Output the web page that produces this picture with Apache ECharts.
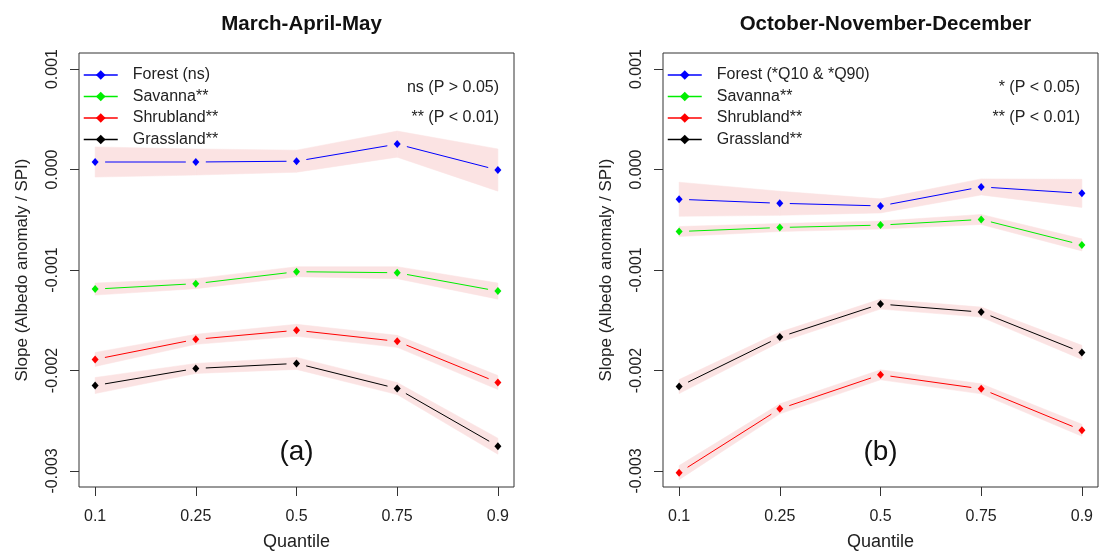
<!DOCTYPE html>
<html>
<head>
<meta charset="utf-8">
<script src="https://cdn.jsdelivr.net/npm/echarts@6/dist/echarts.min.js"></script>
<style>
  html, body { margin: 0; padding: 0; background: #fff; }
  #chart { width: 1101px; height: 556px; }
</style>
</head>
<body>
<div id="chart"></div>
<script>
// x categories and y ticks
const quantiles = ['0.1', '0.25', '0.5', '0.75', '0.9'];
const yTicks = [-0.003, -0.002, -0.001, 0, 0.001];

// (a) March-April-May : slopes and half width of the confidence band
const mamForest = [0.000075, 0.000075, 0.000083, 0.000253, -0.000005];
const mamForestBand = [0.00015, 0.00013, 0.00011, 0.00013, 0.00021];
const mamSavanna = [-0.00119, -0.001136, -0.001017, -0.001027, -0.00121];
const mamSavannaBand = [0.00006, 0.00005, 0.00005, 0.00006, 0.00008];
const mamShrubland = [-0.00189, -0.00169, -0.0016, -0.00171, -0.00212];
const mamShrublandBand = [0.00007, 0.00005, 0.00006, 0.00006, 0.00007];
const mamGrassland = [-0.00215, -0.00198, -0.00193, -0.00218, -0.002754];
const mamGrasslandBand = [0.00008, 0.00005, 0.00006, 0.00006, 0.00008];

// (b) October-November-December
const ondForest = [-0.000296, -0.000336, -0.000362, -0.000173, -0.000237];
const ondForestBand = [0.00017, 0.00012, 0.00007, 0.00008, 0.00014];
const ondSavanna = [-0.000617, -0.000577, -0.000553, -0.000497, -0.00075];
const ondSavannaBand = [0.00005, 0.00004, 0.00004, 0.00005, 0.00006];
const ondShrubland = [-0.003017, -0.002382, -0.002043, -0.002183, -0.002595];
const ondShrublandBand = [0.00007, 0.00005, 0.00005, 0.00005, 0.00006];
const ondGrassland = [-0.00216, -0.001668, -0.001339, -0.001419, -0.00182];
const ondGrasslandBand = [0.00007, 0.00005, 0.00005, 0.00005, 0.00007];

const fontFamily = 'Liberation Sans, Arial, sans-serif';
const bandColor = '#fbe3e3';
const xIdx = quantiles.map((q, i) => i + 1);

const panels = [
  {
    title: 'March-April-May', tag: '(a)', left: 79,
    notes: ['ns (P > 0.05)', '** (P < 0.01)'], noteRight: 499,
    lines: [
      { name: 'Forest (ns)', color: '#0000ff', values: mamForest, band: mamForestBand },
      { name: 'Savanna**', color: '#00ee00', values: mamSavanna, band: mamSavannaBand },
      { name: 'Shrubland**', color: '#ff0000', values: mamShrubland, band: mamShrublandBand },
      { name: 'Grassland**', color: '#000000', values: mamGrassland, band: mamGrasslandBand }
    ]
  },
  {
    title: 'October-November-December', tag: '(b)', left: 663,
    notes: ['* (P < 0.05)', '** (P < 0.01)'], noteRight: 1080,
    lines: [
      { name: 'Forest (*Q10 & *Q90)', color: '#0000ff', values: ondForest, band: ondForestBand },
      { name: 'Savanna**', color: '#00ee00', values: ondSavanna, band: ondSavannaBand },
      { name: 'Shrubland**', color: '#ff0000', values: ondShrubland, band: ondShrublandBand },
      { name: 'Grassland**', color: '#000000', values: ondGrassland, band: ondGrasslandBand }
    ]
  }
];

// one quad of the band between two neighbouring quantiles
function renderBand(params, api) {
  const pts = [
    api.coord([api.value(0), api.value(1)]),
    api.coord([api.value(0), api.value(2)]),
    api.coord([api.value(3), api.value(5)]),
    api.coord([api.value(3), api.value(4)])
  ];
  return { type: 'polygon', shape: { points: pts }, style: { fill: bandColor, stroke: bandColor, lineWidth: 0.5 } };
}

// line segment between two points, stopped short of the markers (like R type="b")
function segmentRenderer(color) {
  return function (params, api) {
    const a = api.coord([api.value(0), api.value(1)]);
    const b = api.coord([api.value(2), api.value(3)]);
    const dx = b[0] - a[0], dy = b[1] - a[1];
    const len = Math.sqrt(dx * dx + dy * dy);
    const gap = 10;
    if (len <= 2 * gap) return null;
    const ux = dx / len, uy = dy / len;
    return {
      type: 'line',
      shape: { x1: a[0] + ux * gap, y1: a[1] + uy * gap, x2: b[0] - ux * gap, y2: b[1] - uy * gap },
      style: { stroke: color, lineWidth: 1 }
    };
  };
}

const gridW = 435, gridTop = 53, gridH = 434;
const grid = [], xAxis = [], yAxis = [], series = [], legend = [], title = [], graphic = [];

panels.forEach(function (p, gi) {
  const cx = p.left + gridW / 2;
  grid.push({
    left: p.left, top: gridTop, width: gridW, height: gridH,
    show: true, borderColor: '#333', borderWidth: 1, backgroundColor: 'transparent'
  });
  xAxis.push({
    type: 'value', gridIndex: gi, min: 0.84, max: 5.16,
    name: 'Quantile', nameLocation: 'middle', nameGap: 46,
    nameTextStyle: { fontFamily: fontFamily, fontSize: 18, color: '#222' },
    axisLine: { show: false, onZero: false },
    axisTick: { show: true, length: 9, customValues: xIdx, lineStyle: { color: '#333' } },
    axisLabel: {
      customValues: xIdx, margin: 22, fontFamily: fontFamily, fontSize: 16, color: '#222',
      formatter: v => quantiles[Math.round(v) - 1]
    },
    splitLine: { show: false }
  });
  yAxis.push({
    type: 'value', gridIndex: gi, min: -0.00316, max: 0.00116,
    name: 'Slope (Albedo anomaly / SPI)', nameLocation: 'middle', nameGap: 48,
    nameTextStyle: { fontFamily: fontFamily, fontSize: 17, color: '#222' },
    axisLine: { show: false, onZero: false },
    axisTick: { show: true, length: 9, customValues: yTicks, lineStyle: { color: '#333' } },
    axisLabel: {
      customValues: yTicks, rotate: 90, margin: 18, fontFamily: fontFamily, fontSize: 16, color: '#222',
      formatter: v => v.toFixed(3)
    },
    splitLine: { show: false }
  });

  p.lines.forEach(function (s) {
    const quads = [];
    for (let i = 0; i < s.values.length - 1; i++) {
      quads.push([
        xIdx[i], s.values[i] - s.band[i], s.values[i] + s.band[i],
        xIdx[i + 1], s.values[i + 1] - s.band[i + 1], s.values[i + 1] + s.band[i + 1]
      ]);
    }
    series.push({
      type: 'custom', xAxisIndex: gi, yAxisIndex: gi, renderItem: renderBand,
      encode: { x: [0, 3], y: [1, 2, 4, 5] }, data: quads, silent: true, z: 1
    });
  });
  p.lines.forEach(function (s) {
    const segs = [];
    for (let i = 0; i < s.values.length - 1; i++) {
      segs.push([xIdx[i], s.values[i], xIdx[i + 1], s.values[i + 1]]);
    }
    series.push({
      type: 'custom', xAxisIndex: gi, yAxisIndex: gi, renderItem: segmentRenderer(s.color),
      encode: { x: [0, 2], y: [1, 3] }, data: segs, silent: true, z: 2
    });
    series.push({
      name: s.name, type: 'line', xAxisIndex: gi, yAxisIndex: gi,
      data: s.values.map((v, i) => [xIdx[i], v]),
      symbol: 'diamond', symbolSize: [7, 8],
      itemStyle: { color: s.color }, lineStyle: { color: s.color, width: 1, opacity: 0 }, z: 3
    });
  });

  legend.push({
    orient: 'vertical', left: p.left - 1, top: 62, itemWidth: 34, itemHeight: 12, itemGap: 5.5,
    data: p.lines.map(s => ({ name: s.name, lineStyle: { color: s.color, width: 1.5, opacity: 1 } })),
    textStyle: { fontFamily: fontFamily, fontSize: 16, color: '#222', padding: [0, 0, 0, 10] }
  });
  title.push({
    text: p.title, left: cx, top: 9, textAlign: 'center',
    textStyle: { fontFamily: fontFamily, fontSize: 20.5, fontWeight: 'bold', color: '#111' }
  });
  graphic.push({
    type: 'text', x: cx, y: 452,
    style: { text: p.tag, font: '28px ' + fontFamily, fill: '#111', align: 'center', verticalAlign: 'middle' }
  });
  p.notes.forEach(function (t, j) {
    graphic.push({
      type: 'text', x: p.noteRight, y: 88 + j * 30,
      style: { text: t, font: '16px ' + fontFamily, fill: '#222', align: 'right', verticalAlign: 'middle' }
    });
  });
});

const chart = echarts.init(document.getElementById('chart'));
chart.setOption({
  animation: false,
  backgroundColor: '#fff',
  title: title,
  legend: legend,
  grid: grid,
  xAxis: xAxis,
  yAxis: yAxis,
  series: series,
  graphic: graphic
});
</script>
</body>
</html>
